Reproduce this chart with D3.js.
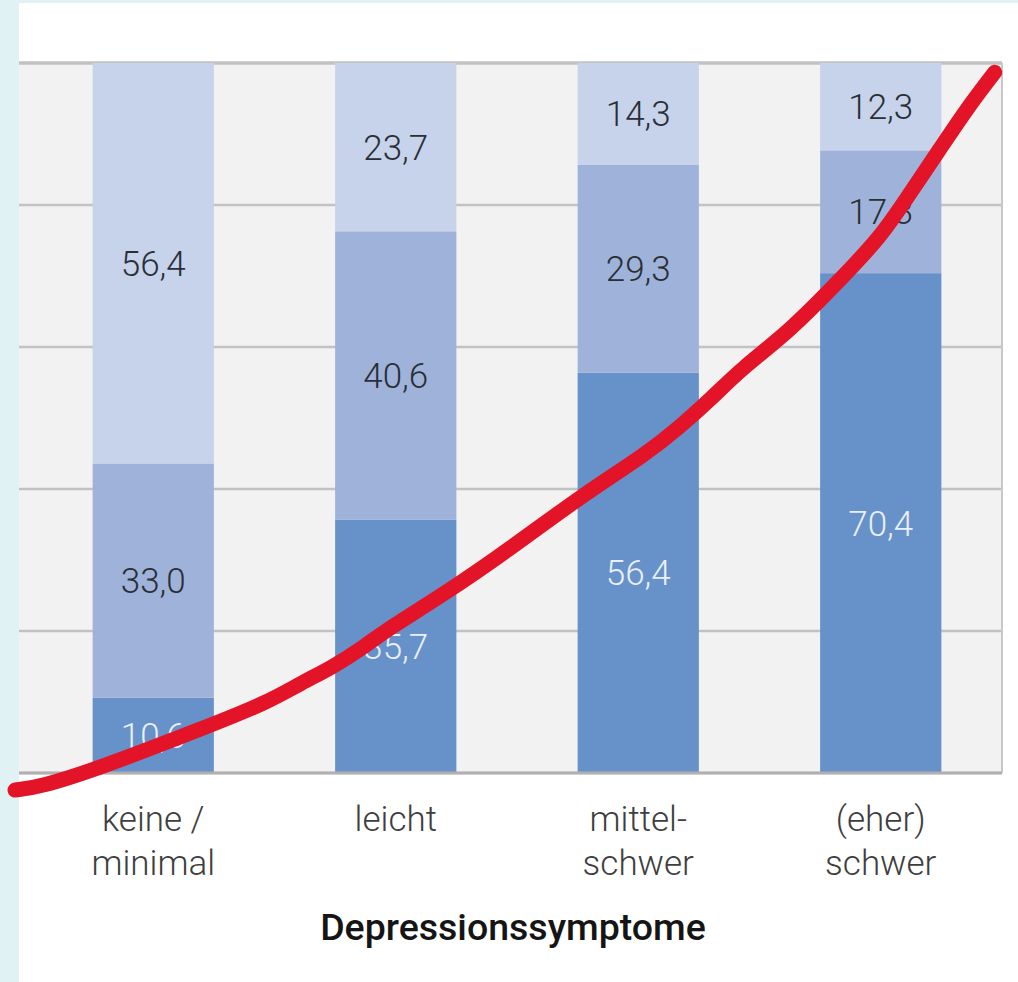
<!DOCTYPE html>
<html>
<head>
<meta charset="utf-8">
<script src="https://cdn.jsdelivr.net/npm/d3@7"></script>
<style>
  html, body { margin: 0; padding: 0; background: #e0f2f3; }
  svg { display: block; }
</style>
</head>
<body>
<div id="chart"></div>
<script>
// categories and values (percent, stacked to 100)
var categories = ["keine/minimal", "leicht", "mittel-schwer", "(eher) schwer"];
var categoryLines = [["keine /", "minimal"], ["leicht"], ["mittel-", "schwer"], ["(eher)", "schwer"]];
var seriesKeys = ["bottom", "middle", "top"];
var bottomValues = [10.6, 35.7, 56.4, 70.4];
var middleValues = [33.0, 40.6, 29.3, 17.3];
var topValues = [56.4, 23.7, 14.3, 12.3];
var yTicks = [0, 20, 40, 60, 80, 100];
var axisTitle = "Depressionssymptome";

// hand drawn red stroke: [category position (0 = first bar centre), percent]
var redStroke = [
  [-0.57, -2.4], [-0.47, -2.0], [-0.22, 0.7], [0.19, 6.1], [0.47, 9.9],
  [0.61, 12.7], [0.74, 14.9], [0.88, 18.0], [0.94, 19.7], [1.21, 25.4],
  [1.48, 31.8], [1.76, 38.9], [2.04, 45.1], [2.17, 48.7], [2.31, 53.0],
  [2.42, 56.8], [2.63, 62.4], [2.83, 69.4], [3.00, 75.5], [3.11, 81.1],
  [3.25, 88.2], [3.36, 93.8], [3.47, 98.7]
];

var W = 1018, H = 982;
var plot = {left: 19, right: 1002, top: 63, bottom: 773};

var svg = d3.select("#chart")
  .append("svg")
    .attr("width", W)
    .attr("height", H);

// white panel
svg.append("rect")
  .attr("x", 19).attr("y", 3)
  .attr("width", W - 19).attr("height", H - 3)
  .attr("fill", "#ffffff");

// plot background
svg.append("rect")
  .attr("x", plot.left).attr("y", plot.top)
  .attr("width", plot.right - plot.left).attr("height", plot.bottom - plot.top)
  .attr("fill", "#f2f2f2");

var x = d3.scaleBand()
  .domain(categories)
  .range([32, 1002])
  .paddingInner(0.5)
  .paddingOuter(0.25);

var y = d3.scaleLinear()
  .domain([0, 100])
  .range([plot.bottom, plot.top]);

// gridlines
svg.append("g")
  .selectAll("line")
  .data(yTicks)
  .enter().append("line")
    .attr("x1", plot.left).attr("x2", plot.right)
    .attr("y1", function(d) { return y(d); })
    .attr("y2", function(d) { return y(d); })
    .attr("stroke", "#c2c2c2")
    .attr("stroke-width", function(d) { return d === 100 ? 3.5 : 2.5; });

// right border
svg.append("line")
  .attr("x1", plot.right).attr("x2", plot.right)
  .attr("y1", plot.top).attr("y2", plot.bottom)
  .attr("stroke", "#c8c8c8")
  .attr("stroke-width", 2);

// stacked data
var table = categories.map(function(c, i) {
  return {cat: c, bottom: bottomValues[i], middle: middleValues[i], top: topValues[i]};
});
var stacked = d3.stack().keys(seriesKeys)(table);

var color = d3.scaleOrdinal()
  .domain(seriesKeys)
  .range(["#6791c9", "#9fb3da", "#c6d3eb"]);
var textColor = d3.scaleOrdinal()
  .domain(seriesKeys)
  .range(["#e9eff8", "#2a2f36", "#2a2f36"]);

var de = d3.formatLocale({decimal: ",", thousands: ".", grouping: [3], currency: ["", " €"]});
var fmt = de.format(".1f");

var layer = svg.selectAll(".layer")
  .data(stacked)
  .enter().append("g")
    .attr("class", "layer");

layer.selectAll("rect")
  .data(function(s) { return s; })
  .enter().append("rect")
    .attr("x", function(d) { return x(d.data.cat); })
    .attr("width", x.bandwidth())
    .attr("y", function(d) { return y(d[1]); })
    .attr("height", function(d) { return y(d[0]) - y(d[1]); })
    .attr("fill", function(d) { return color(d3.select(this.parentNode).datum().key); });

layer.selectAll("text")
  .data(function(s) { return s.map(function(d) { d.key = s.key; return d; }); })
  .enter().append("text")
    .attr("x", function(d) { return x(d.data.cat) + x.bandwidth() / 2; })
    .attr("y", function(d) { return (y(d[0]) + y(d[1])) / 2; })
    .attr("dy", "0.36em")
    .attr("text-anchor", "middle")
    .attr("font-family", "Roboto, sans-serif")
    .attr("font-weight", 300)
    .attr("font-size", "35px")
    .attr("fill", function(d) { return textColor(d.key); })
    .text(function(d) { return fmt(d.data[d.key]); });

// bottom axis line
svg.append("line")
  .attr("x1", plot.left).attr("x2", plot.right)
  .attr("y1", plot.bottom).attr("y2", plot.bottom)
  .attr("stroke", "#b0b0b0")
  .attr("stroke-width", 3);

// category labels
var catLabels = svg.append("g")
  .selectAll("text")
  .data(categories)
  .enter().append("text")
    .attr("text-anchor", "middle")
    .attr("font-family", "Roboto, sans-serif")
    .attr("font-weight", 300)
    .attr("font-size", "35px")
    .attr("fill", "#3e3e3e")
    .attr("transform", function(d) { return "translate(" + (x(d) + x.bandwidth() / 2) + ",831)"; });

catLabels.selectAll("tspan")
  .data(function(d, i) { return categoryLines[i]; })
  .enter().append("tspan")
    .attr("x", 0)
    .attr("y", function(d, i) { return i * 44; })
    .text(function(d) { return d; });

// axis title
svg.append("text")
  .attr("x", 513)
  .attr("y", 940)
  .attr("text-anchor", "middle")
  .attr("font-family", "Roboto, sans-serif")
  .attr("font-weight", 500)
  .attr("font-size", "37.5px")
  .attr("fill", "#151515")
  .text(axisTitle);

// red freehand stroke
var xc = d3.scaleLinear()
  .domain([0, categories.length - 1])
  .range([x(categories[0]) + x.bandwidth() / 2, x(categories[categories.length - 1]) + x.bandwidth() / 2]);

var strokeLine = d3.line()
  .x(function(d) { return xc(d[0]); })
  .y(function(d) { return y(d[1]); })
  .curve(d3.curveBasis);

svg.append("path")
  .datum(redStroke)
  .attr("d", strokeLine)
  .attr("fill", "none")
  .attr("stroke", "#e31427")
  .attr("stroke-width", 15)
  .attr("stroke-linecap", "round")
  .attr("stroke-linejoin", "round");
</script>
</body>
</html>
